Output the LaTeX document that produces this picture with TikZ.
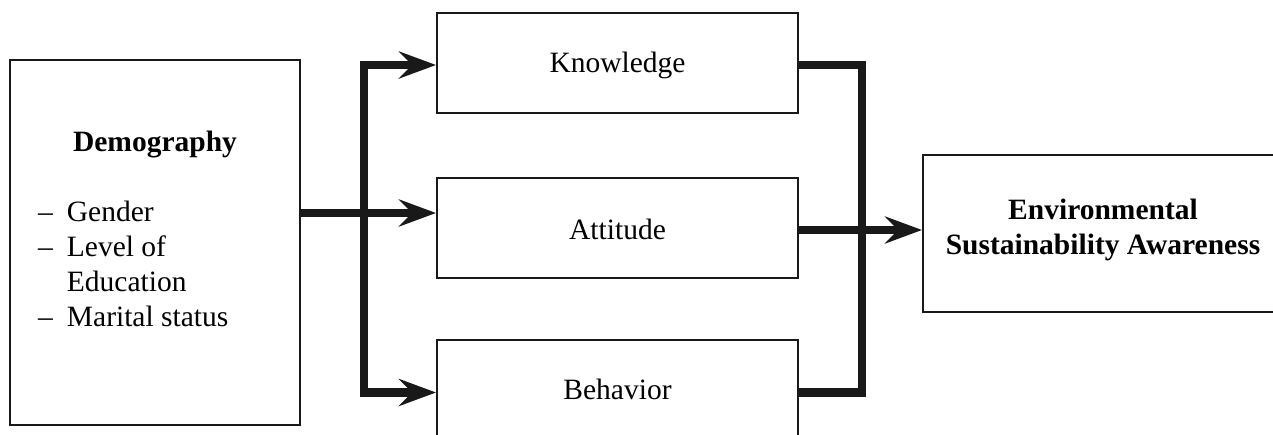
\documentclass[tikz,border=0pt]{standalone}
\usepackage{fontspec}
\setmainfont{Liberation Serif}
\usetikzlibrary{arrows.meta}
\begin{document}
\begin{tikzpicture}[x=1pt,y=-1pt,
  box/.style={draw=black!90, line width=2pt, rectangle, inner sep=0pt, text depth=0pt, font=\fontsize{29.5}{35}\selectfont},
  thickline/.style={draw=black!90, line width=8.5pt, line join=miter},
  bigtip/.tip={Stealth[length=37pt,width=27pt,inset=13pt]},
  arr/.style={thickline, -bigtip},
  txt/.style={inner sep=0pt, font=\fontsize{29.5}{35}\selectfont}]
\useasboundingbox (0,0) rectangle (1273,435);
% boxes
\node[box, minimum width=290pt, minimum height=365pt] (demo) at (155,242.5) {};
\node[txt, font=\fontsize{29.5}{35}\selectfont\bfseries, anchor=base] (demotitle) at (155,152) {Demography};
\node[txt, anchor=base west] (demolist) at (38,222) {\begin{tabular}[t]{@{}l@{\hspace{14pt}}l@{}}
– & Gender\\
– & Level of\\
  & Education\\
– & Marital status
\end{tabular}};
\node[box, minimum width=361pt, minimum height=100pt, text height=20pt] (know) at (617.5,63) {Knowledge};
\node[box, minimum width=361pt, minimum height=100pt, text height=24pt] (att) at (617.5,228) {Attitude};
\node[box, minimum width=361pt, minimum height=105pt, text height=13pt] (beh) at (617.5,392.5) {Behavior};
\node[box, minimum width=360pt, minimum height=157pt] (env) at (1103,233.5) {};
\node[txt, anchor=base, font=\fontsize{29.5}{35}\selectfont\bfseries] (envtext) at (1103,220) {\begin{tabular}[t]{@{}c@{}}Environmental\\Sustainability Awareness\end{tabular}};
% connectors
\coordinate (tb) at ([xshift=63pt]demo.east |- beh.west);
\coordinate (tr) at ([xshift=63pt]know.east |- beh.east);
\coordinate (mid) at ([yshift=15pt]att.west);
\draw[thickline, bigtip-bigtip] ([yshift=-2pt]know.west) -| (tb) -- (beh.west);
\draw[arr] (demo.east |- mid) -- (mid);
\draw[thickline] ([yshift=-2pt]know.east) -| (tr) -- (beh.east);
\draw[arr] ([yshift=-2pt]att.east) -- ([yshift=-2pt]env.west |- att.east);
\end{tikzpicture}
\end{document}
